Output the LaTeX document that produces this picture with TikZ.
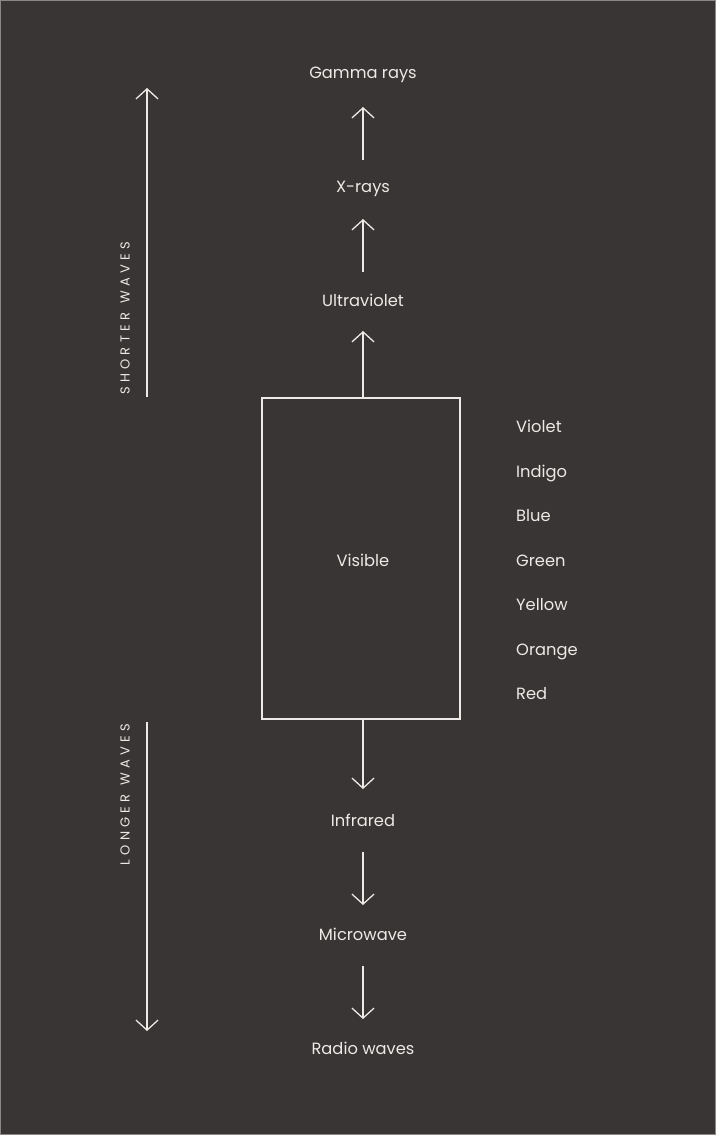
\documentclass[tikz,border=0pt]{standalone}
\usepackage{fontspec}
\setmainfont{Poppins}
\usetikzlibrary{arrows.meta}
\definecolor{bg}{HTML}{393534}
\definecolor{fg}{HTML}{ECEAE7}
\definecolor{edge}{HTML}{8A8786}
\tikzset{
  lbl/.style={text=fg, font=\fontsize{16.3}{18}\selectfont, inner sep=0pt, anchor=base},
  side/.style={text=fg, font=\fontsize{13}{15}\selectfont, inner sep=0pt, rotate=90, anchor=base},
  col/.style={text=fg, font=\fontsize{16.3}{18}\selectfont, inner sep=0pt, anchor=base west},
  arr/.style={draw=fg, line width=1.3pt, -{Straight Barb[length=10pt,width=22pt,line width=1.3pt]}},
}
\begin{document}
\begin{tikzpicture}[x=1pt,y=-1pt]
\useasboundingbox (0,0) rectangle (716,1135);
\fill[bg] (0,0) rectangle (716,1135);
\draw[edge, line width=1pt] (0.5,0.5) rectangle (715.5,1134.5);
% main chain
\node[lbl] (gamma) at (363,78) {Gamma rays};
\node[lbl] (xray) at (363,192) {X-rays};
\node[lbl] (uv) at (363,306) {Ultraviolet};
\node[draw=fg, line width=1.5pt, minimum width=198pt, minimum height=321pt, inner sep=0pt] (vis) at (361,558.5) {};
\node[lbl] (vistxt) at (363,566) {Visible};
\node[lbl] (ir) at (363,826) {Infrared};
\node[lbl] (mw) at (363,940) {Microwave};
\node[lbl] (radio) at (363,1054) {Radio waves};
\coordinate (a1s) at (363,160); \coordinate (a1e) at (363,107);
\coordinate (a2s) at (363,272); \coordinate (a2e) at (363,219);
\coordinate (a3e) at (363,331);
\coordinate (a4e) at (363,789);
\coordinate (a5s) at (363,852); \coordinate (a5e) at (363,905);
\coordinate (a6s) at (363,966); \coordinate (a6e) at (363,1019);
\draw[arr] (a1s) -- (a1e);
\draw[arr] (a2s) -- (a2e);
\draw[arr] (vis.north -| a3e) -- (a3e);
\draw[arr] (vis.south -| a4e) -- (a4e);
\draw[arr] (a5s) -- (a5e);
\draw[arr] (a6s) -- (a6e);
% side arrows
\coordinate (s1s) at (147,397); \coordinate (s1e) at (147,88);
\coordinate (s2s) at (147,722); \coordinate (s2e) at (147,1031);
\draw[arr] (s1s) -- (s1e);
\draw[arr] (s2s) -- (s2e);
\node[side] (short) at (129.5,318.5) {S\,\,H\,\,O\,\,R\,\,T\,\,E\,\,R\,\,\,\,W\,\,A\,\,V\,\,E\,\,S};
\node[side] (long) at (129.5,794.5) {L\,\,O\,\,N\,\,G\,\,E\,\,R\,\,\,\,W\,\,A\,\,V\,\,E\,\,S};
% colours
\node[col] (c1) at (516,432) {Violet};
\node[col] (c2) at (516,477) {Indigo};
\node[col] (c3) at (516,521) {Blue};
\node[col] (c4) at (516,566) {Green};
\node[col] (c5) at (516,610) {Yellow};
\node[col] (c6) at (516,655) {Orange};
\node[col] (c7) at (516,699) {Red};
\end{tikzpicture}
\end{document}
